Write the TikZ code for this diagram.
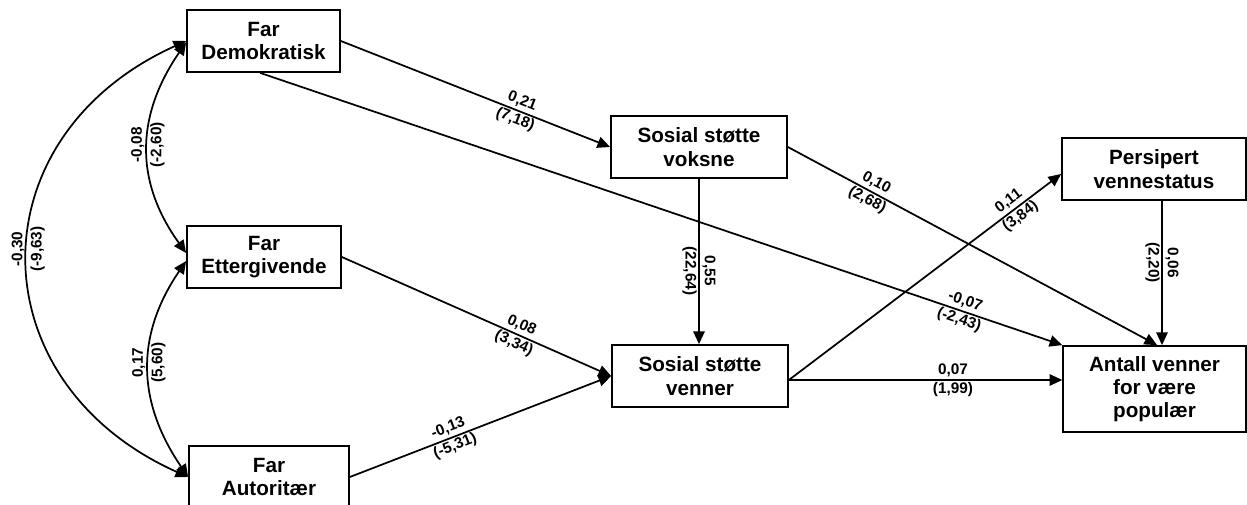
\documentclass[tikz,border=0pt]{standalone}
\usepackage{fontspec}
\setmainfont{Liberation Sans}
\usetikzlibrary{arrows.meta}
\begin{document}
\begin{tikzpicture}[x=0.75pt,y=-0.75pt,
  box/.style={draw, line width=1.3pt, align=center, inner sep=0pt,
    font=\bfseries\fontsize{15.5}{17.5}\selectfont, minimum height=46.5pt},
  lbl/.style={align=center, inner sep=0pt,
    font=\bfseries\fontsize{11.5}{14.5}\selectfont},
  link/.style={line width=1.3pt, -{Triangle[length=9.5pt,width=8.5pt]}},
  dlink/.style={line width=1.3pt,
    {Triangle[length=9.5pt,width=8.5pt]}-{Triangle[length=9.5pt,width=8.5pt]}}]

\useasboundingbox (0,0) rectangle (1247,505);

% variables
\node[box, minimum width=114.75pt] (demo) at (263.5,41) {Far\\Demokratisk};
\node[box, minimum width=115.5pt]  (ett)  at (264,257)  {Far\\Ettergivende};
\node[box, minimum width=120pt]    (aut)  at (269,477)  {Far\\Autoritær};
\node[box, minimum width=132pt]    (voks) at (699,147)  {Sosial støtte\\voksne};
\node[box, minimum width=132pt]    (venn) at (700,376)  {Sosial støtte\\venner};
\node[box, minimum width=138pt]    (pers) at (1154,169) {Persipert\\vennestatus};
\node[box, minimum width=137pt, minimum height=64.5pt] (ant) at (1154.5,389)
  {Antall venner\\for være\\populær};

% correlations between the father styles
\draw[dlink] (demo.west) .. controls (-26,137) and (-24,382) ..
  node[lbl, rotate=90, pos=0.48] (c30) {-0,30\\(-9,63)} (aut.west);
\draw[dlink] ([yshift=-1pt]demo.west) .. controls (135,117) and (135,182) ..
  node[lbl, rotate=90, pos=0.48] (c08) {-0,08\\(-2,60)} ([yshift=3pt]ett.west);
\draw[dlink] ([yshift=-3pt]ett.west) .. controls (135,336) and (137,402) ..
  node[lbl, rotate=90, pos=0.47] (c17) {0,17\\(5,60)} (aut.west);

% paths
\draw[link] (demo.east) --
  node[lbl, sloped, pos=0.66] (p21) {0,21\\(7,18)} (voks.west);
\draw[link] ([xshift=-2.6pt]demo.south) --
  node[lbl, sloped, pos=0.875] (p07a) {-0,07\\(-2,43)} (ant.north west);
\draw[link] (ett.east) --
  node[lbl, sloped, pos=0.653] (p08) {0,08\\(3,34)} (venn.west);
\draw[link] (aut.east) --
  node[lbl, sloped, pos=0.39] (p13) {-0,13\\(-5,31)} (venn.west);
\draw[link] (voks.south) --
  node[lbl, rotate=-90, pos=0.557] (p55) {0,55\\(22,64)} (voks.south |- venn.north);
\draw[link] (voks.east) --
  node[lbl, sloped, pos=0.227] (p10) {0,10\\(2,68)} ([xshift=2pt]ant.north);
\coordinate (vout) at ([yshift=-3pt]venn.east);
\draw[link] (vout) --
  node[lbl, sloped, pos=0.83] (p11) {0,11\\(3,84)} ([yshift=-3.75pt]pers.west);
\draw[link] (vout) --
  node[lbl, pos=0.6] (p07b) {0,07\\(1,99)} (vout -| ant.west);
\draw[link] ([xshift=6pt]pers.south) --
  node[lbl, rotate=-90, pos=0.43] (p06) {0,06\\(2,20)} ([xshift=6pt]pers.south |- ant.north);

\end{tikzpicture}
\end{document}
